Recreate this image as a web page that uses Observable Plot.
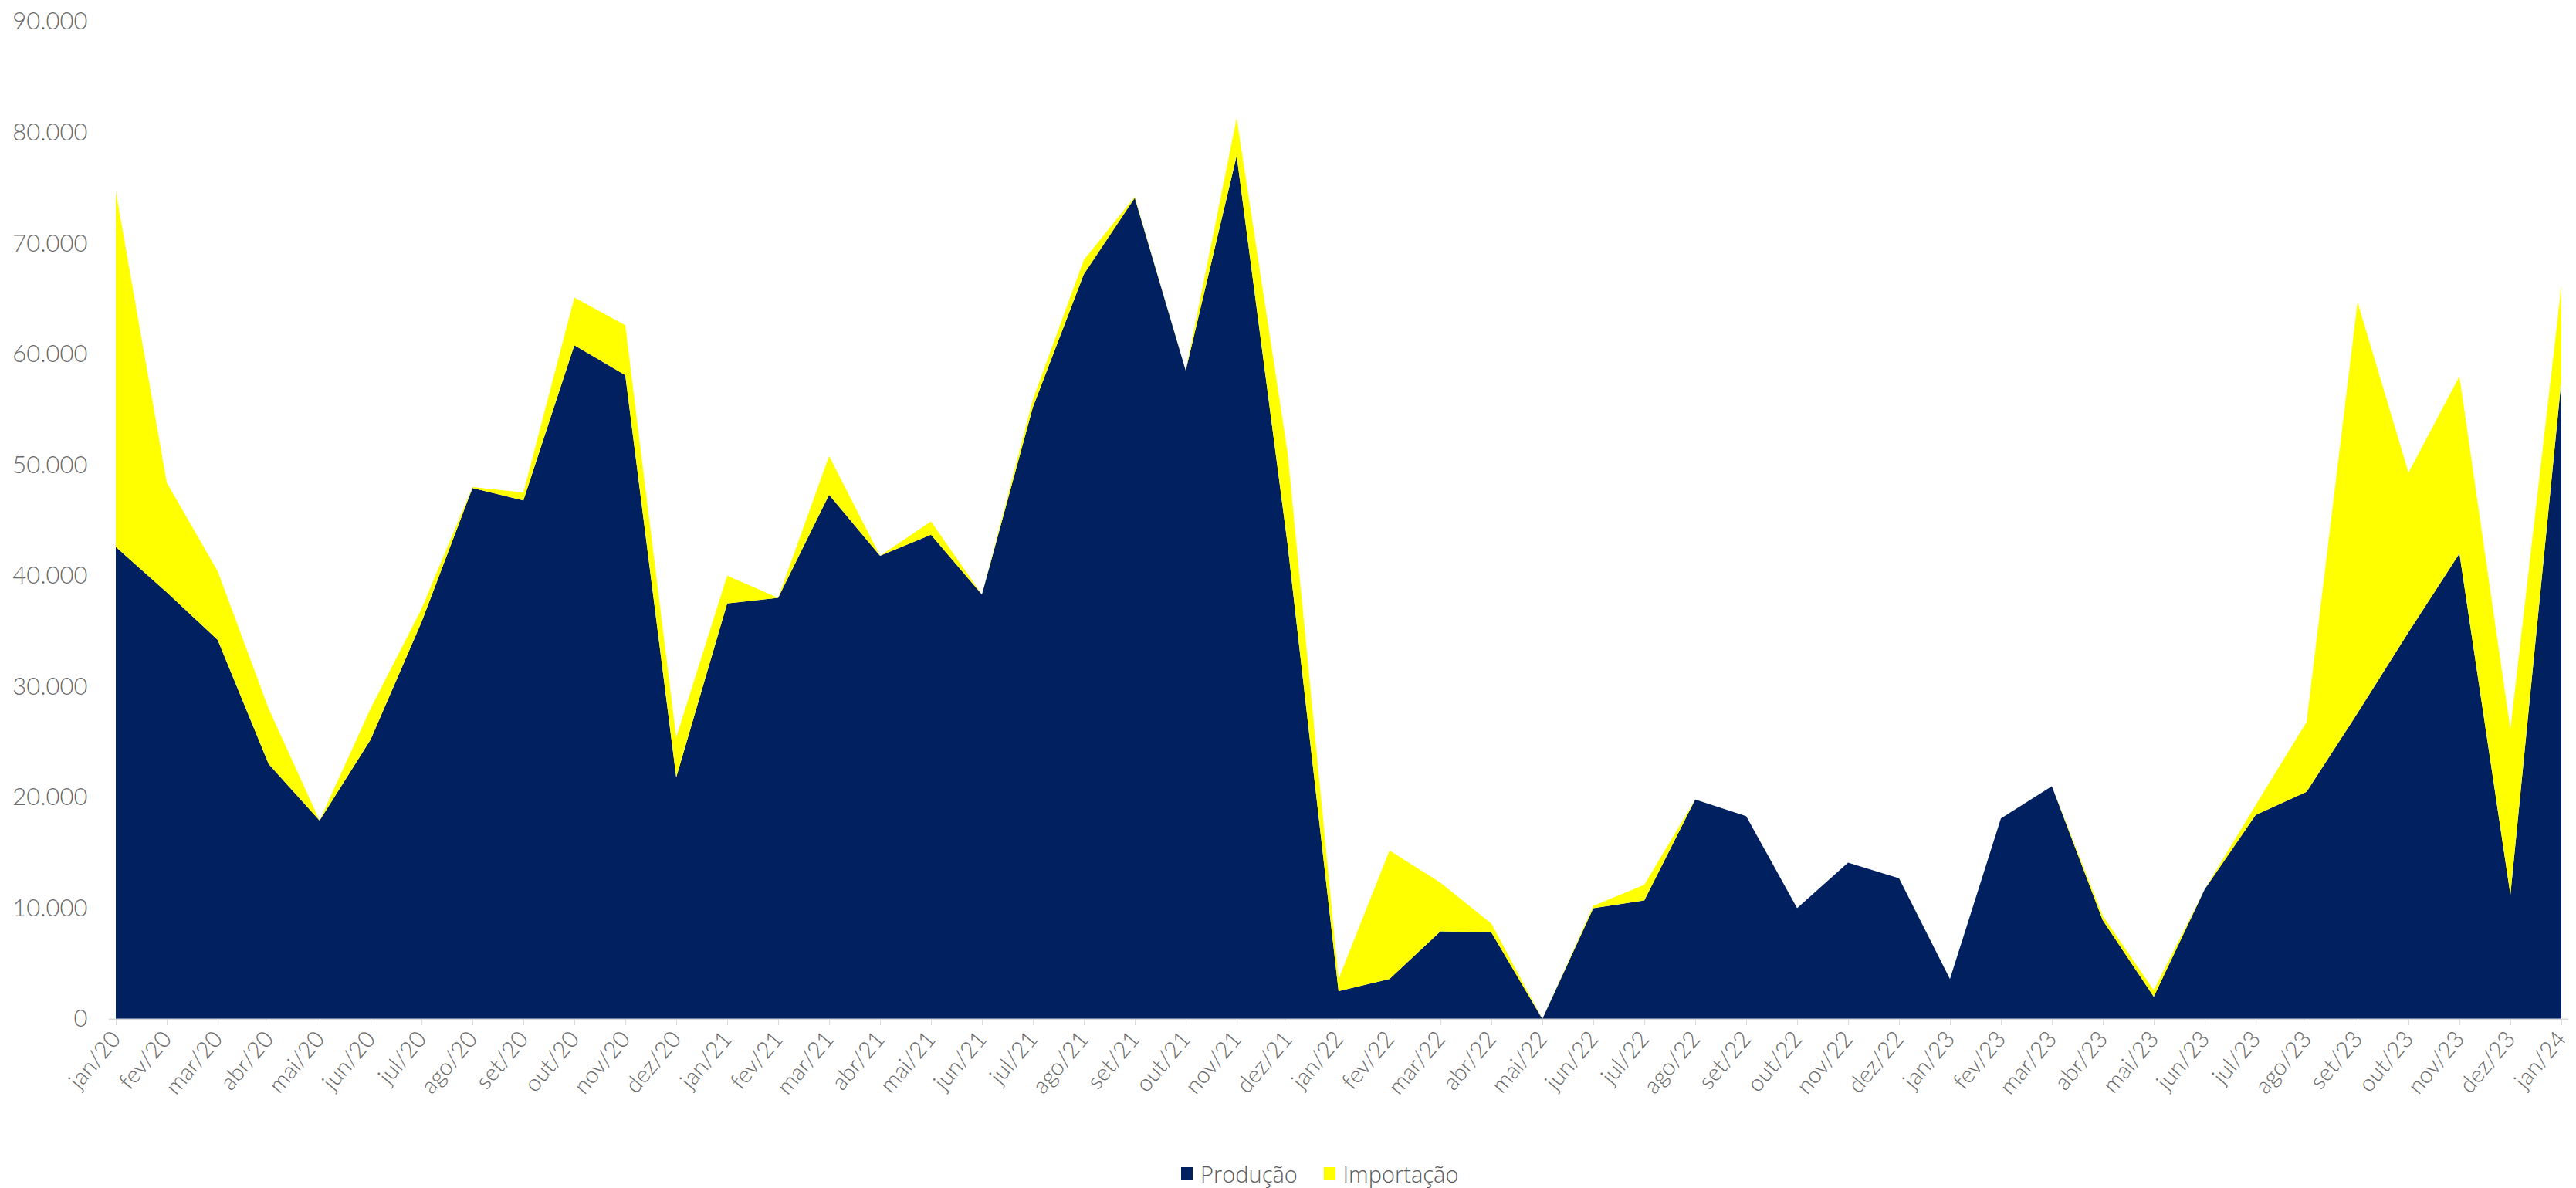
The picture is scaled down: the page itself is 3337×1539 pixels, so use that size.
<!DOCTYPE html>
<html>
<head>
<meta charset="utf-8">
<script src="https://cdn.jsdelivr.net/npm/d3@7"></script>
<script src="https://cdn.jsdelivr.net/npm/@observablehq/plot@0.6"></script>
<style>
  body { margin: 0; background: #fff; width: 3337px; height: 1539px; overflow: hidden; position: relative; font-family: Lato, sans-serif; }
  #chart { position: absolute; left: 0; top: 0; }
  #legend { position: absolute; left: 1530px; top: 1499px; display: flex; align-items: center; font-family: "Open Sans", sans-serif; font-weight: 300; font-size: 29px; color: #595959; height: 42px; }
  .item { display: flex; align-items: center; margin-right: 34px; }
  .sw { width: 15px; height: 16px; display: inline-block; margin-right: 10px; }
</style>
</head>
<body>
<div id="chart"></div>
<div id="legend"></div>
<script>
const months = [
  "jan/20","fev/20","mar/20","abr/20","mai/20","jun/20","jul/20","ago/20","set/20","out/20","nov/20","dez/20",
  "jan/21","fev/21","mar/21","abr/21","mai/21","jun/21","jul/21","ago/21","set/21","out/21","nov/21","dez/21",
  "jan/22","fev/22","mar/22","abr/22","mai/22","jun/22","jul/22","ago/22","set/22","out/22","nov/22","dez/22",
  "jan/23","fev/23","mar/23","abr/23","mai/23","jun/23","jul/23","ago/23","set/23","out/23","nov/23","dez/23",
  "jan/24"
];
const producao = [
  42600, 38500, 34200, 23000, 17900, 25200, 35800, 47900, 46800, 60800, 58100, 21800,
  37500, 38000, 47300, 41800, 43700, 38300, 55200, 67200, 74100, 58500, 77900, 42800,
  2500, 3600, 7900, 7800, 0, 10000, 10700, 19800, 18300, 10000, 14100, 12700,
  3600, 18100, 21000, 8900, 2000, 11700, 18400, 20500, 27600, 34900, 42000, 11200,
  57600
];
const importacao = [
  32100, 9900, 6200, 5000, 0, 2800, 1200, 100, 700, 4300, 4500, 3600,
  2500, 0, 3500, 0, 1200, 0, 700, 1300, 100, 0, 3400, 8300,
  1100, 11600, 4400, 800, 0, 200, 1400, 0, 0, 0, 0, 0,
  0, 0, 0, 400, 600, 0, 900, 6300, 37100, 14400, 16000, 14900,
  8500
];
const series = ["Produção", "Importação"];
const colors = ["#002060", "#FFFF00"];
const yTicks = [0, 10000, 20000, 30000, 40000, 50000, 60000, 70000, 80000, 90000];

const data = [];
months.forEach((m, i) => {
  data.push({ month: m, serie: series[0], value: producao[i] });
  data.push({ month: m, serie: series[1], value: importacao[i] });
});

const ptBR = d3.formatLocale({ decimal: ",", thousands: ".", grouping: [3], currency: ["R$", ""] });
const fmt = ptBR.format(",d");

const chart = Plot.plot({
  width: 3337,
  height: 1490,
  marginLeft: 141,
  marginRight: 10,
  marginTop: 28,
  marginBottom: 170,
  style: { fontFamily: "Lato, sans-serif", fontSize: "30px", background: "white", color: "#6a6a6a" },
  x: { type: "point", domain: months, padding: 0, label: null },
  y: { domain: [0, 90000], label: null },
  color: { domain: series, range: colors },
  marks: [
    Plot.areaY(data, { x: "month", y: "value", fill: "serie" }),
    Plot.ruleY([0], { stroke: "#d9d9d9", strokeWidth: 2 }),
    Plot.axisY({ ticks: yTicks, tickFormat: fmt, tickSize: 0, tickPadding: 28, fontSize: 31, fontWeight: 300, color: "#6a6a6a", label: null }),
    Plot.axisX({ tickSize: 8, tickPadding: 12, tickRotate: -50, fontSize: 30, fontWeight: 300, color: "#6a6a6a", stroke: "#d9d9d9", label: null })
  ]
});
document.getElementById("chart").appendChild(chart);

const legend = document.getElementById("legend");
series.forEach((s, i) => {
  const item = document.createElement("div");
  item.className = "item";
  const sw = document.createElement("span");
  sw.className = "sw";
  sw.style.background = colors[i];
  const t = document.createElement("span");
  t.textContent = s;
  item.appendChild(sw);
  item.appendChild(t);
  legend.appendChild(item);
});
</script>
</body>
</html>
